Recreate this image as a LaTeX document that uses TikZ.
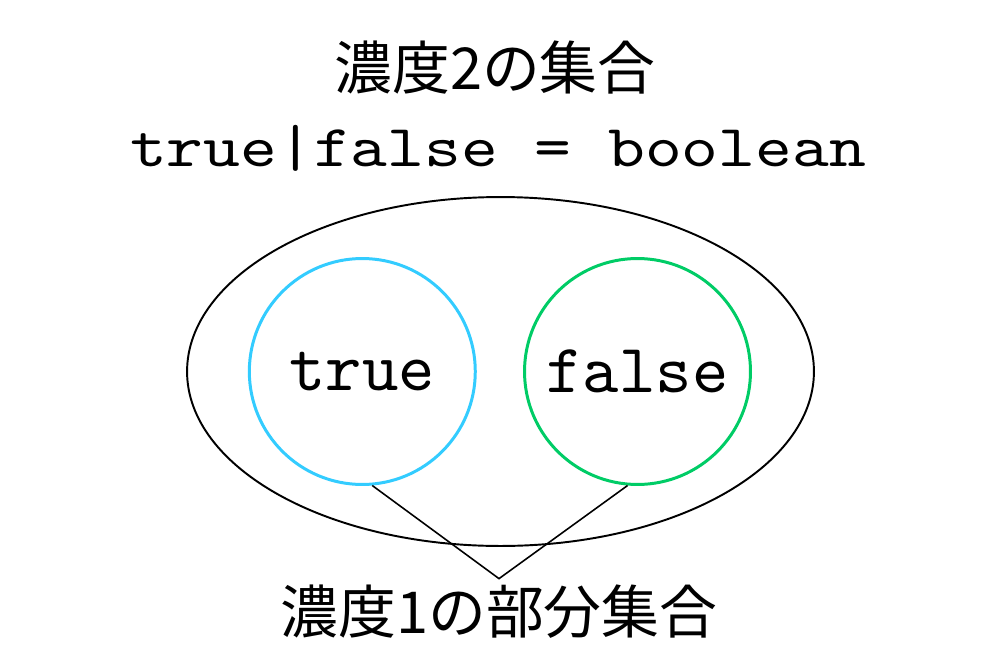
\documentclass[tikz,border=0pt]{standalone}
\usepackage{fontspec}
\newfontfamily\jpfont{Noto Sans CJK JP}
\newfontfamily\codefont{lmmono10-regular.otf}[FakeStretch=1.18]
\newfontfamily\setfont{lmmono10-regular.otf}
\usetikzlibrary{shapes.geometric}
\definecolor{trueblue}{HTML}{33CCFF}
\definecolor{falsegreen}{HTML}{00CC66}

\begin{document}
\begin{tikzpicture}[x=0.02cm,y=-0.02cm]
      \tikzset{member/.style={circle,
          draw=#1,
          line width=1.7pt,
          inner sep=0pt,
          minimum size=4.52cm,
          font=\setfont\fontsize{39.4}{44}\selectfont},
        caption/.style={font=\jpfont\fontsize{32.9}{40}\selectfont}
      }
      \useasboundingbox [fill=white] (0,0) rectangle (1000,666);
      \node [caption, anchor=base] (title) at (495,89.5) {濃度2の集合};
      \node [font=\codefont\fontsize{33.8}{40}\selectfont, anchor=base] (type) at (498,166) {true|false = boolean};
      \node [draw, ellipse, line width=1.1pt, minimum width=12.54cm, minimum height=6.98cm] (set) at (500.5,371.5) {};
      \node [member=trueblue] (tr) at (362.3,371.5) {true};
      \node [member=falsegreen] (fa) at (637.5,371.5) {false};
      \node [caption, anchor=base] (sub) at (499,633.5) {濃度1の部分集合};
      \draw [line width=0.9pt] (tr.-85)--(sub.north)--(fa.265);
    \end{tikzpicture}
\end{document}
